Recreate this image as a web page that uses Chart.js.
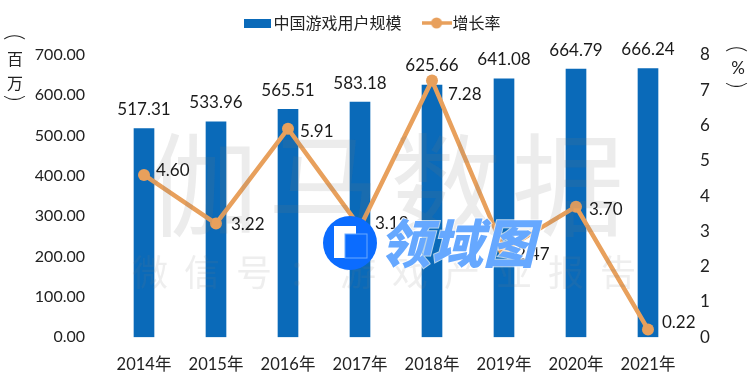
<!DOCTYPE html>
<html>
<head>
<meta charset="utf-8">
<script src="https://cdn.jsdelivr.net/npm/chart.js@4"></script>
<style>
  html, body { margin: 0; padding: 0; background: #fff; }
  canvas { display: block; }
</style>
</head>
<body>
<canvas id="gameChart" width="750" height="387"></canvas>
<script>
var years = ["2014年", "2015年", "2016年", "2017年", "2018年", "2019年", "2020年", "2021年"];
var users = [517.31, 533.96, 565.51, 583.18, 625.66, 641.08, 664.79, 666.24];
var growth = [4.60, 3.22, 5.91, 3.12, 7.28, 2.47, 3.70, 0.22];

var numFont = '17px Lato, "Noto Sans CJK SC"';
var blue = "#0a6ab9";
var orange = "#e8a05c";

// legend icons
function barIcon() {
  var c = document.createElement("canvas");
  c.width = 27; c.height = 9;
  var x = c.getContext("2d");
  x.fillStyle = blue;
  x.fillRect(0, 0, 27, 9);
  return c;
}
function lineIcon() {
  var c = document.createElement("canvas");
  c.width = 30; c.height = 12;
  var x = c.getContext("2d");
  x.strokeStyle = orange;
  x.lineWidth = 3.5;
  x.beginPath(); x.moveTo(0, 6); x.lineTo(30, 6); x.stroke();
  x.fillStyle = orange;
  x.beginPath(); x.arc(15, 6, 5.5, 0, Math.PI * 2); x.fill();
  return c;
}

// pushes the plot down under the legend
var legendGap = {
  id: "legendGap",
  beforeInit: function (chart) {
    var fit = chart.legend.fit;
    chart.legend.fit = function () {
      fit.call(this);
      this.height += 14;
    };
  }
};

// faint watermark, drawn over the bars
var watermark = {
  id: "watermark",
  afterDatasetsDraw: function (chart) {
    var ctx = chart.ctx;
    ctx.save();
    ctx.textAlign = "center";
    ctx.textBaseline = "middle";
    ctx.fillStyle = "rgba(120,120,120,0.14)";
    ctx.font = '112px "Noto Sans CJK SC"';
    ctx.letterSpacing = "10px";
    ctx.fillText("伽马数据", 390, 185);
    ctx.fillStyle = "rgba(120,120,120,0.13)";
    ctx.font = '36px "Noto Sans CJK SC"';
    ctx.letterSpacing = "16px";
    ctx.fillText("微信号：游戏产业报告", 392, 272);
    ctx.restore();
  }
};

// value labels, the library has none of its own
var valueLabels = {
  id: "valueLabels",
  afterDatasetsDraw: function (chart) {
    var ctx = chart.ctx;
    // where each rate label sits relative to its point
    var nudge = [[12, -4], [15, 1], [12, 3], [15, -4], [16, 14], [12, 4], [13, 3], [14, -7]];
    ctx.save();
    ctx.font = numFont;
    ctx.fillStyle = "#1a1a1a";
    ctx.textBaseline = "middle";
    ctx.textAlign = "center";
    chart.getDatasetMeta(1).data.forEach(function (bar, i) {
      ctx.fillText(users[i].toFixed(2), bar.x, bar.y - 19);
    });
    ctx.textAlign = "left";
    chart.getDatasetMeta(0).data.forEach(function (pt, i) {
      ctx.fillText(growth[i].toFixed(2), pt.x + nudge[i][0], pt.y + nudge[i][1]);
    });
    ctx.restore();
  }
};

// a bracket turned on its side, as in the vertical unit labels
function sideBracket(ctx, text, x, y) {
  ctx.save();
  ctx.translate(x, y);
  ctx.rotate(Math.PI / 2);
  ctx.font = "300 24px Lato";
  ctx.fillText(text, 0, 0);
  ctx.restore();
}

// vertical unit labels beside the two axes
var unitLabels = {
  id: "unitLabels",
  afterDraw: function (chart) {
    var ctx = chart.ctx;
    ctx.save();
    ctx.fillStyle = "#222";
    ctx.textAlign = "center";
    ctx.textBaseline = "middle";
    ctx.font = '16px "Noto Sans CJK SC"';
    ctx.fillText("百", 15, 59);
    ctx.fillText("万", 15, 83);
    sideBracket(ctx, "(", 15, 37);
    sideBracket(ctx, ")", 15, 98);
    sideBracket(ctx, "(", 737, 49);
    sideBracket(ctx, ")", 737, 85);
    ctx.font = "17px Lato";
    ctx.fillText("%", 738, 69);
    ctx.restore();
  }
};

// logo stamped on top of everything
var logo = {
  id: "logo",
  afterDraw: function (chart) {
    var ctx = chart.ctx;
    ctx.save();
    ctx.fillStyle = "#0b6cff";
    ctx.beginPath(); ctx.arc(350, 243, 27, 0, Math.PI * 2); ctx.fill();
    ctx.fillStyle = "#fff";
    ctx.fillRect(334, 226, 22, 32);
    ctx.fillStyle = "#0b6cff";
    ctx.fillRect(345, 234, 22, 24);
    ctx.strokeStyle = "#6aa9ff";
    ctx.lineWidth = 1;
    ctx.strokeRect(345, 234, 22, 24);
    ctx.font = 'italic 900 52px "Noto Sans CJK SC"';
    ctx.textAlign = "left";
    ctx.textBaseline = "middle";
    ctx.lineWidth = 2;
    ctx.strokeStyle = "rgba(255,255,255,0.7)";
    ctx.strokeText("领域图", 379, 243);
    ctx.fillStyle = "#66a8ff";
    ctx.fillText("领域图", 379, 243);
    ctx.restore();
  }
};

new Chart(document.getElementById("gameChart"), {
  data: {
    labels: years,
    datasets: [
      {
        type: "line",
        label: "增长率",
        data: growth,
        yAxisID: "yRate",
        borderColor: orange,
        backgroundColor: orange,
        borderWidth: 4.5,
        pointRadius: 6,
        pointBackgroundColor: orange,
        pointBorderWidth: 0,
        tension: 0,
        order: 1,
        pointStyle: "circle"
      },
      {
        type: "bar",
        label: "中国游戏用户规模",
        data: users,
        yAxisID: "yUsers",
        backgroundColor: blue,
        barThickness: 20,
        order: 2
      }
    ]
  },
  options: {
    responsive: false,
    animation: false,
    layout: { padding: { top: -12, bottom: 2, left: 0, right: 0 } },
    plugins: {
      tooltip: { enabled: false },
      legend: {
        position: "top",
        labels: {
          font: { size: 16, family: '"Noto Sans CJK SC"' },
          color: "#222",
          usePointStyle: true,
          pointStyleWidth: 16,
          padding: 27,
          generateLabels: function (chart) {
            return [
              { text: "中国游戏用户规模", pointStyle: barIcon(), datasetIndex: 1, fontColor: "#222", lineWidth: 0 },
              { text: "增长率", pointStyle: lineIcon(), datasetIndex: 0, fontColor: "#222", lineWidth: 0 }
            ];
          }
        }
      }
    },
    scales: {
      x: {
        grid: { display: false },
        border: { display: false },
        ticks: { font: { size: 16.5, family: 'Lato, "Noto Sans CJK SC"' }, color: "#222", padding: 10, maxRotation: 0 }
      },
      yUsers: {
        position: "left",
        min: 0,
        max: 700,
        grid: { display: false },
        border: { display: false },
        afterFit: function (s) { s.width = 108; },
        ticks: {
          stepSize: 100,
          font: { size: 16, family: "Lato" },
          color: "#222",
          padding: 15,
          callback: function (v) { return v.toFixed(2); }
        }
      },
      yRate: {
        position: "right",
        min: 0,
        max: 8,
        grid: { display: false },
        border: { display: false },
        afterFit: function (s) { s.width = 66; },
        ticks: { stepSize: 1, font: { size: 17, family: "Lato" }, color: "#222", padding: 8 }
      }
    }
  },
  plugins: [legendGap, watermark, valueLabels, unitLabels, logo]
});
</script>
</body>
</html>
